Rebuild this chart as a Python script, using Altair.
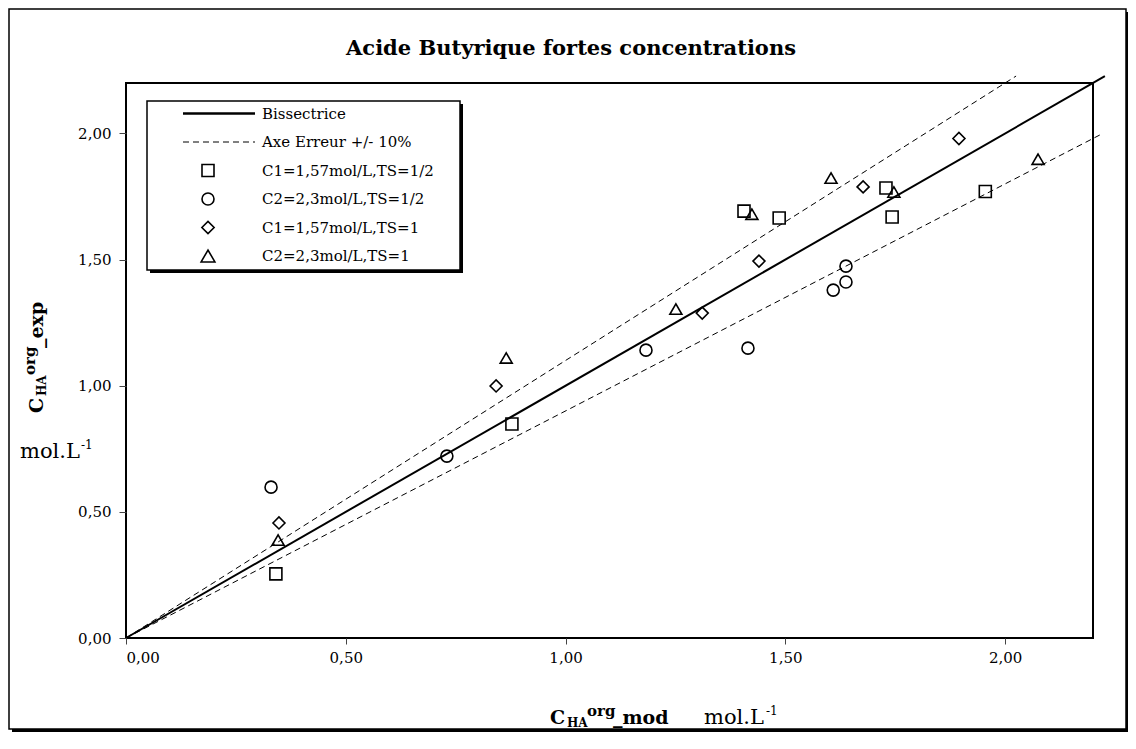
import altair as alt
import pandas as pd

# ---------------- data ----------------
series_names = ["C1=1,57mol/L,TS=1/2", "C2=2,3mol/L,TS=1/2",
                "C1=1,57mol/L,TS=1", "C2=2,3mol/L,TS=1"]
line_names = ["Bissectrice", "Axe Erreur +/- 10%"]

sq_x = [0.341, 0.878, 1.406, 1.486, 1.729, 1.743, 1.955]
sq_y = [0.254, 0.848, 1.692, 1.665, 1.784, 1.669, 1.770]
ci_x = [0.330, 0.730, 1.183, 1.415, 1.609, 1.638, 1.638]
ci_y = [0.598, 0.721, 1.141, 1.149, 1.379, 1.411, 1.474]
di_x = [0.348, 0.842, 1.311, 1.440, 1.677, 1.895]
di_y = [0.456, 0.999, 1.288, 1.494, 1.788, 1.980]
tr_x = [0.346, 0.865, 1.251, 1.424, 1.604, 1.747, 2.075]
tr_y = [0.388, 1.110, 1.304, 1.680, 1.823, 1.768, 1.898]

bis_x = [0.0, 2.227]
bis_y = [0.0, 2.227]
up_x = [0.0, 2.025]
up_y = [0.0, 2.2275]
lo_x = [0.0, 2.22]
lo_y = [0.0, 1.998]

tick_vals = [0.0, 0.5, 1.0, 1.5, 2.0]

# ---------------- tables ----------------
pts = pd.DataFrame({
    "x": sq_x + ci_x + di_x + tr_x,
    "y": sq_y + ci_y + di_y + tr_y,
    "s": [series_names[0]] * len(sq_x) + [series_names[1]] * len(ci_x)
         + [series_names[2]] * len(di_x) + [series_names[3]] * len(tr_x),
})
lines = pd.DataFrame({
    "x": bis_x + up_x + lo_x,
    "y": bis_y + up_y + lo_y,
    "s": ["bis"] * 2 + ["up"] * 2 + ["lo"] * 2,
})
one = pd.DataFrame({"k": [0]})

FONT = "DejaVu Serif"
W, H = 967, 555
shapes = ["square", "circle", "diamond", "triangle-up"]
sizes = [144, 144, 150, 190]

lab = "replace(format(datum.value, '.2f'), '.', ',')"
xs = alt.Scale(domain=[0, 2.2], nice=False, zero=False)
ys = alt.Scale(domain=[0, 2.2], nice=False, zero=False)
xax = alt.Axis(values=tick_vals, labelExpr=lab, title=None, grid=False, domain=False,
               tickColor="#444", tickSize=6, tickWidth=1, labelFont=FONT, labelFontSize=15,
               labelColor="black", labelPadding=6, zindex=1)
yax = alt.Axis(values=tick_vals, labelExpr=lab, title=None, grid=False, domain=False,
               tickColor="#444", tickSize=7, tickWidth=1, labelFont=FONT, labelFontSize=15,
               labelColor="black", labelPadding=8, zindex=1)

def deco():
    return alt.Chart(one)

layers = []

# outer frame with shadow
layers.append(deco().mark_rect(color="black").encode(
    x=alt.value(1000), x2=alt.value(1003), y=alt.value(-71), y2=alt.value(649)))
layers.append(deco().mark_rect(color="black").encode(
    x=alt.value(-114), x2=alt.value(1003), y=alt.value(646), y2=alt.value(649)))
layers.append(deco().mark_rect(fill="transparent", stroke="black", strokeWidth=1.5).encode(
    x=alt.value(-117), x2=alt.value(1000), y=alt.value(-74), y2=alt.value(646)))

# reference lines
layers.append(alt.Chart(lines).transform_filter("datum.s == 'bis'").mark_line(
    color="black", strokeWidth=2).encode(
    x=alt.X("x:Q", scale=xs, axis=xax), y=alt.Y("y:Q", scale=ys, axis=yax)))
layers.append(alt.Chart(lines).transform_filter("datum.s != 'bis'").mark_line(
    color="black", strokeWidth=1, strokeDash=[6, 4]).encode(
    x=alt.X("x:Q", scale=xs), y=alt.Y("y:Q", scale=ys), detail="s:N"))

# data points
layers.append(alt.Chart(pts).mark_point(filled=False, color="black", opacity=1,
                                        strokeWidth=1.6).encode(
    x=alt.X("x:Q", scale=xs), y=alt.Y("y:Q", scale=ys),
    shape=alt.Shape("s:N", scale=alt.Scale(domain=series_names, range=shapes), legend=None),
    size=alt.Size("s:N", scale=alt.Scale(domain=series_names, range=sizes), legend=None)))

# plot border
layers.append(deco().mark_rect(fill="transparent", stroke="black", strokeWidth=2).encode(
    x=alt.value(0), x2=alt.value(W), y=alt.value(0), y2=alt.value(H)))

# legend box with shadow
LX1, LX2, LY1, LY2 = 21, 334, 18, 187
layers.append(deco().mark_rect(color="black").encode(
    x=alt.value(LX2), x2=alt.value(LX2 + 3), y=alt.value(LY1 + 3), y2=alt.value(LY2 + 3)))
layers.append(deco().mark_rect(color="black").encode(
    x=alt.value(LX1 + 3), x2=alt.value(LX2 + 3), y=alt.value(LY2), y2=alt.value(LY2 + 3)))
layers.append(deco().mark_rect(fill="white", stroke="black", strokeWidth=1.5).encode(
    x=alt.value(LX1), x2=alt.value(LX2), y=alt.value(LY1), y2=alt.value(LY2)))

labels_all = line_names + series_names
for i, name in enumerate(labels_all):
    ry = 30.5 + 28.5 * i
    if i == 0:
        layers.append(deco().mark_rule(color="black", strokeWidth=2.5).encode(
            x=alt.value(57), x2=alt.value(129), y=alt.value(ry)))
    elif i == 1:
        layers.append(deco().mark_rule(color="black", strokeWidth=1, strokeDash=[6, 4]).encode(
            x=alt.value(57), x2=alt.value(129), y=alt.value(ry)))
    else:
        layers.append(deco().mark_point(shape=shapes[i - 2], filled=False, color="black",
                                         opacity=1, strokeWidth=1.6, size=sizes[i - 2]).encode(
            x=alt.value(82), y=alt.value(ry)))
    layers.append(deco().mark_text(text=name, font=FONT, fontSize=15, align="left",
                                   baseline="middle", color="black").encode(
        x=alt.value(136), y=alt.value(ry)))

# title
layers.append(deco().mark_text(text="Acide Butyrique fortes concentrations", font=FONT,
                               fontSize=21, fontWeight="bold", align="center",
                               baseline="alphabetic", color="black").encode(
    x=alt.value(445), y=alt.value(-28)))

def txt(t, x, y, size, bold=True, angle=0):
    kw = dict(text=t, font=FONT, fontSize=size, align="left", baseline="alphabetic",
              color="black")
    if bold:
        kw["fontWeight"] = "bold"
    if angle:
        kw["angle"] = angle
    return deco().mark_text(**kw).encode(x=alt.value(x), y=alt.value(y))

# x axis title
layers += [
    txt("C", 424, 641, 19),
    txt("HA", 441, 644, 12),
    txt("org", 461, 633, 15),
    txt("_mod", 487, 641, 19),
    txt("mol.L", 578, 641, 21, bold=False),
    txt("-1", 640, 632, 12, bold=False),
]
# y axis title (rotated)
layers += [
    txt("C", -83, 330, 19, angle=270),
    txt("HA", -80, 313, 12, angle=270),
    txt("org", -91, 292, 15, angle=270),
    txt("_exp", -83, 265, 19, angle=270),
    txt("mol.L", -106, 375, 21, bold=False),
    txt("-1", -45, 366, 12, bold=False),
]

chart = alt.layer(*layers).properties(
    width=W, height=H,
    padding={"left": 118, "top": 75, "right": 35, "bottom": 95},
    autosize=alt.AutoSizeParams(type="none"),
).configure_view(stroke=None).configure(font=FONT, background="white")

chart.save("out.html", embed_options={"renderer": "svg", "actions": False})
